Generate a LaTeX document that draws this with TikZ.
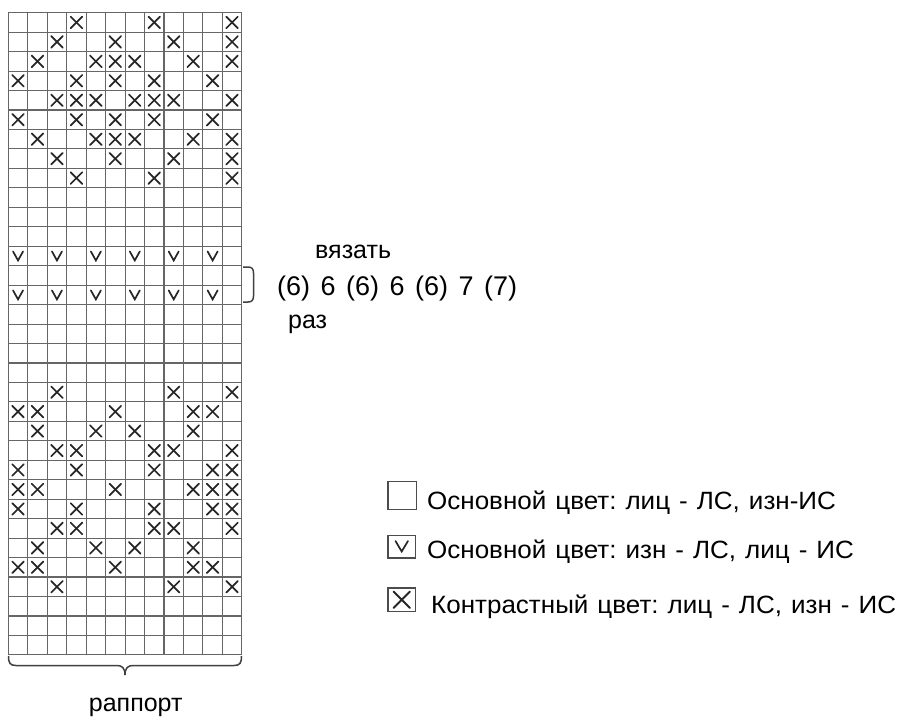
\documentclass[tikz,border=0pt]{standalone}
\usepackage{fontspec}
\setmainfont{Liberation Sans}
\newfontfamily\legfont[FakeStretch=1.04,WordSpace=1.25]{Liberation Sans}
\newfontfamily\numfont[WordSpace=1.4]{Liberation Sans}
\frenchspacing
\begin{document}
\begin{tikzpicture}[x=1pt,y=-1pt,
  gridline/.style={draw=black!60,line width=1.1pt},
  xmk/.style={draw=black!85,line width=1.7pt,line cap=round},
  vmk/.style={draw=black!85,line width=1.7pt,line cap=round,line join=miter},
  bracepath/.style={draw=black!75,line width=1.5pt},
  legbox/.style={draw=black!70,line width=1.5pt,fill=white},
  lbl/.style={inner sep=0pt,font=\fontsize{25}{30}\selectfont},
  numlbl/.style={inner sep=0pt,font=\numfont\fontsize{27}{32}\selectfont},
  legtxt/.style={inner sep=0pt,anchor=base west,font=\legfont\fontsize{25}{30}\selectfont}]
\useasboundingbox (0,0) rectangle (905,720);
\def\xo{8.3}\def\yo{12.7}\def\cs{19.46}
% grid
\foreach \i in {0,...,12}{
  \pgfmathsetmacro\gx{\xo+\i*\cs}
  \draw[gridline] (\gx,\yo) -- (\gx,{\yo+33*\cs});
}
\foreach \j in {0,...,33}{
  \pgfmathsetmacro\gy{\yo+\j*\cs}
  \draw[gridline] (\xo,\gy) -- ({\xo+12*\cs},\gy);
}
% X marks
\foreach \r/\cols in {1/{4,8,12},2/{3,6,9,12},3/{2,5,6,7,10,12},4/{1,4,6,8,11},
  5/{3,4,5,7,8,9,12},6/{1,4,6,8,11},7/{2,5,6,7,10,12},8/{3,6,9,12},9/{4,8,12},
  20/{3,9,12},21/{1,2,6,10,11},22/{2,5,7,10},23/{3,4,8,9,12},24/{1,4,8,11,12},
  25/{1,2,6,10,11,12},26/{1,4,8,11,12},27/{3,4,8,9,12},28/{2,5,7,10},
  29/{1,2,6,10,11},30/{3,9,12}}{
  \foreach \c in \cols {
    \pgfmathsetmacro\cx{\xo+(\c-0.5)*\cs}
    \pgfmathsetmacro\cy{\yo+(\r-0.5)*\cs}
    \draw[xmk] (\cx-5.8,\cy-5.8) -- (\cx+5.8,\cy+5.8);
    \draw[xmk] (\cx-5.8,\cy+5.8) -- (\cx+5.8,\cy-5.8);
  }
}
% V marks
\foreach \r in {13,15}{
  \foreach \c in {1,3,5,7,9,11}{
    \pgfmathsetmacro\cx{\xo+(\c-0.5)*\cs}
    \pgfmathsetmacro\cy{\yo+(\r-0.5)*\cs}
    \draw[vmk] (\cx-5,\cy-4.5) -- (\cx,\cy+4.5) -- (\cx+5,\cy-4.5);
  }
}
% bottom brace
\draw[bracepath] (8.5,656) .. controls (8.5,663) and (10,665.5) .. (16,665.5) -- (117,665.5)
  .. controls (122,665.5) and (125,668) .. (125,675)
  .. controls (125,668) and (128,665.5) .. (133,665.5) -- (234,665.5)
  .. controls (240,665.5) and (241.5,663) .. (241.5,656);
\node[lbl,anchor=base] (rapport) at (135.7,711.7) {раппорт};
% right bracket
\draw[bracepath] (243,267) -- (248,267) .. controls (252,267) and (253.5,269) .. (253.5,273)
  -- (253.5,296) .. controls (253.5,300) and (252,302) .. (248,302) -- (243,302);
\node[lbl,anchor=base west] (vyazat) at (315,258) {вязать};
\node[numlbl,anchor=base west] (nums) at (277,295) {(6) 6 (6) 6 (6) 7 (7)};
\node[lbl,anchor=base west] (raz) at (288,328) {раз};
% legend
\draw[legbox] (388,481.5) rectangle (416.5,509.5);
\node[legtxt] (leg1) at (427,509.5) {Основной цвет: лиц - ЛС, изн-ИС};
\draw[legbox] (388,535.5) rectangle (415.5,558);
\draw[vmk] (395.5,541) -- (401.7,551.5) -- (408,541);
\node[legtxt] (leg2) at (427,558) {Основной цвет: изн - ЛС, лиц - ИС};
\draw[legbox] (388,588) rectangle (415.5,611.5);
\draw[xmk,line width=2pt] (393.5,591.5) -- (410,608);
\draw[xmk,line width=2pt] (393.5,608) -- (410,591.5);
\node[legtxt] (leg3) at (431,613.5) {Контрастный цвет: лиц - ЛС, изн - ИС};
\end{tikzpicture}
\end{document}
